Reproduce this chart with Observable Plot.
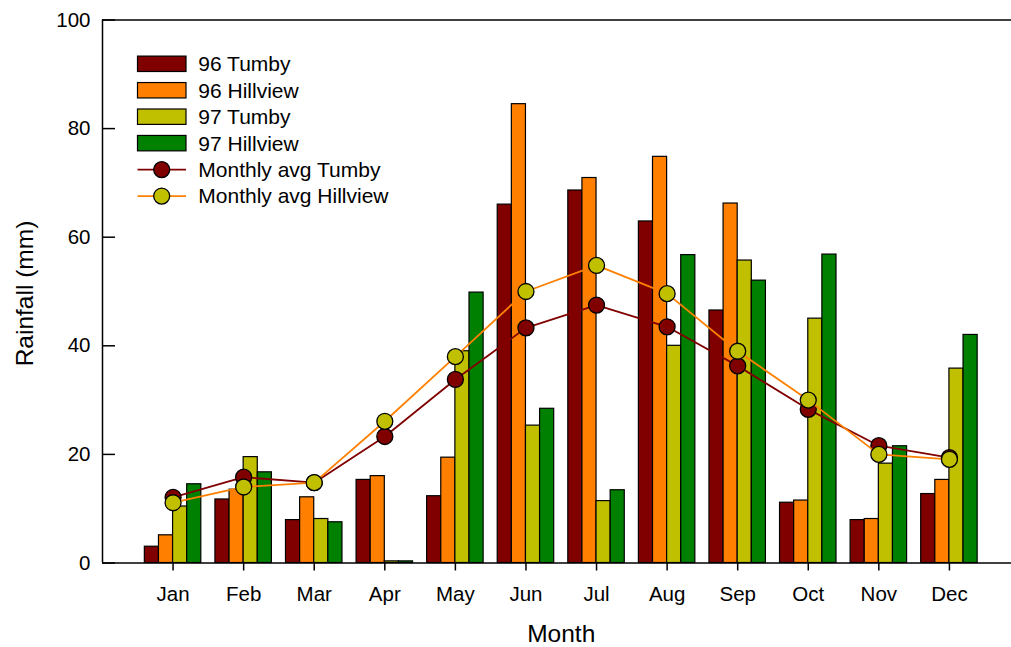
<!DOCTYPE html>
<html><head><meta charset="utf-8">
<script src="https://cdn.jsdelivr.net/npm/d3@7"></script>
<script src="https://cdn.jsdelivr.net/npm/@observablehq/plot@0.6"></script>
<style>
body{margin:0;background:#fff;font-family:"Liberation Sans",Arial,sans-serif;}
#wrap{position:relative;width:1011px;height:647px;overflow:hidden;background:#fff;}
#legend{position:absolute;left:0;top:0;}
</style></head><body><div id="wrap"></div>
<script>
const months = ["Jan","Feb","Mar","Apr","May","Jun","Jul","Aug","Sep","Oct","Nov","Dec"];
const tumby96    = [3.0, 11.7, 7.9, 15.3, 12.3, 66.0, 68.6, 62.9, 46.5, 11.1, 7.9, 12.7];
const hillview96 = [5.1, 13.5, 12.1, 16.0, 19.4, 84.5, 70.9, 74.8, 66.2, 11.5, 8.1, 15.3];
const tumby97    = [10.4, 19.5, 8.1, 0.3, 39.0, 25.3, 11.4, 40.0, 55.7, 45.0, 18.3, 35.8];
const hillview97 = [14.5, 16.7, 7.5, 0.3, 49.8, 28.4, 13.4, 56.7, 52.0, 56.8, 21.5, 42.0];
const avgTumby    = [12.1, 15.8, 14.8, 23.3, 33.8, 43.3, 47.5, 43.5, 36.3, 28.3, 21.6, 19.4];
const avgHillview = [11.1, 14.0, 14.8, 26.1, 38.0, 50.0, 54.8, 49.6, 39.0, 30.0, 20.0, 19.1];
const barNames = ["96 Tumby", "96 Hillview", "97 Tumby", "97 Hillview"];
const barColors = ["#800000", "#ff8000", "#c0c000", "#008000"];
const lineNames = ["Monthly avg Tumby", "Monthly avg Hillview"];
const lineColors = ["#800000", "#ff8000"];
const dotColors = ["#800000", "#c0c000"];
const yTicks = [0, 20, 40, 60, 80, 100];

const barSeries = [tumby96, hillview96, tumby97, hillview97];
const groupWidth = 0.8, nBars = barSeries.length, bw = groupWidth / nBars;
const barMarks = barSeries.map((vals, i) => {
  const data = vals.map((v, m) => ({month: m + 1, value: v}));
  return Plot.rectY(data, {
    x1: d => d.month - groupWidth / 2 + i * bw,
    x2: d => d.month - groupWidth / 2 + (i + 1) * bw,
    y1: 0, y2: "value",
    fill: barColors[i], stroke: "#000", strokeWidth: 1.2
  });
});
const avgSeries = [avgTumby, avgHillview];
const lineMarks = avgSeries.flatMap((vals, i) => {
  const data = vals.map((v, m) => ({month: m + 1, value: v}));
  return [
    Plot.line(data, {x: "month", y: "value", stroke: lineColors[i], strokeWidth: 1.8}),
    Plot.dot(data, {x: "month", y: "value", r: 8, fill: dotColors[i], stroke: "#000", strokeWidth: 1.3})
  ];
});

const chart = Plot.plot({
  width: 1011, height: 647,
  marginLeft: 102, marginRight: -8.5, marginTop: 19.5, marginBottom: 84.5,
  style: {fontFamily: "'Liberation Sans', Arial, sans-serif", fontSize: "20px", color: "#000", background: "white", overflow: "hidden"},
  x: {type: "linear", domain: [0, 13]},
  y: {domain: [0, 100]},
  marks: [
    ...barMarks,
    ...lineMarks,
    Plot.ruleY([0], {stroke: "#000", strokeWidth: 1.5}),
    Plot.ruleY([100], {stroke: "#000", strokeWidth: 1.5}),
    Plot.ruleX([0], {stroke: "#000", strokeWidth: 1.5}),
    Plot.axisX({ticks: d3.range(1, 13), tickFormat: i => months[i - 1], tickSize: 8, tickPadding: 15.5, strokeWidth: 1.5, label: null, fontSize: 20.5}),
    Plot.axisY({ticks: yTicks, tickSize: -13, tickPadding: 25, strokeWidth: 1.5, label: null, fontSize: 20.5}),
    Plot.text(["Rainfall (mm)"], {frameAnchor: "left", textAnchor: "middle", rotate: -90, dx: -70, dy: 2, lineAnchor: "bottom", fontSize: 24.5, fill: "#000"}),
    Plot.text(["Month"], {frameAnchor: "bottom", textAnchor: "middle", dy: 79, lineAnchor: "bottom", fontSize: 24.5, fill: "#000"})
  ]
});
const wrap = document.getElementById("wrap");
wrap.appendChild(chart);

// Legend overlay
const lg = d3.select(wrap).append("svg").attr("id", "legend").attr("width", 1011).attr("height", 647)
  .style("font-family", "'Liberation Sans', Arial, sans-serif").style("font-size", "21px");
const rowY = i => 63.8 + i * 26.45;
barNames.forEach((name, i) => {
  lg.append("rect").attr("x", 137.5).attr("y", rowY(i) - 7.7).attr("width", 48.5).attr("height", 15.4)
    .attr("fill", barColors[i]).attr("stroke", "#000").attr("stroke-width", 1.2);
  lg.append("text").attr("x", 198.3).attr("y", rowY(i) + 7.4).text(name);
});
lineNames.forEach((name, j) => {
  const i = j + barNames.length;
  lg.append("line").attr("x1", 137.5).attr("x2", 186).attr("y1", rowY(i)).attr("y2", rowY(i))
    .attr("stroke", lineColors[j]).attr("stroke-width", 1.8);
  lg.append("circle").attr("cx", 161.7).attr("cy", rowY(i)).attr("r", 8)
    .attr("fill", dotColors[j]).attr("stroke", "#000").attr("stroke-width", 1.3);
  lg.append("text").attr("x", 198.3).attr("y", rowY(i) + 7.4).text(name);
});
</script></body></html>
